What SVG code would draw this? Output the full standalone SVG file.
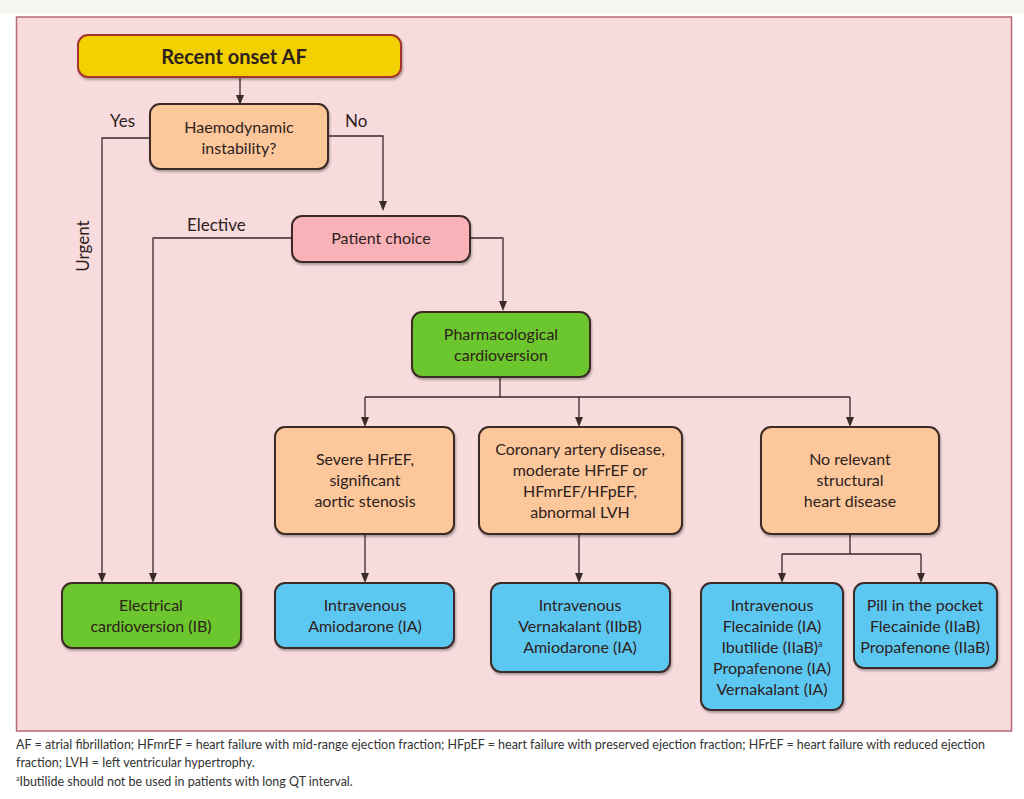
<svg xmlns="http://www.w3.org/2000/svg" width="1024" height="799" viewBox="0 0 1024 799">
<defs>
<marker id="ah" markerWidth="10" markerHeight="10" refX="5" refY="5" orient="auto" markerUnits="userSpaceOnUse">
<path d="M0,1 L10,5 L0,9 z" fill="#3a2a28"/>
</marker>
<filter id="sh" x="-10%" y="-10%" width="130%" height="140%">
<feDropShadow dx="1" dy="2" stdDeviation="1.2" flood-color="#000" flood-opacity="0.3"/>
</filter>
</defs>
<style>
.t{font-family:"Lato","Liberation Sans",sans-serif;font-size:16px;fill:#2e211b;text-anchor:middle}
.l{font-family:"Lato","Liberation Sans",sans-serif;font-size:17px;fill:#2e211b}
.f{font-family:"Lato","Liberation Sans",sans-serif;font-size:12.5px;fill:#333}
.n{stroke:#3a2a25;stroke-width:2;filter:url(#sh)}
.c{fill:none;stroke:#3a2a28;stroke-width:1.3}
.peach{fill:#fcc89b}
.blue{fill:#5cc8f2}
.green{fill:#6cc72e}
</style>
<rect x="0" y="0" width="1024" height="799" fill="#ffffff"/>
<rect x="0" y="0" width="1024" height="14" fill="#f7f7f2"/>
<rect x="16.5" y="17" width="995" height="714" fill="#f7dbdd" stroke="#b5697a" stroke-width="1.5"/>

<g id="connectors">
<path class="c" d="M240,77 V100" marker-end="url(#ah)"/>
<path class="c" d="M150,138 H102 V578" marker-end="url(#ah)"/>
<path class="c" d="M328,136 H383 V206" marker-end="url(#ah)"/>
<path class="c" d="M292,238 H153 V578" marker-end="url(#ah)"/>
<path class="c" d="M470,238 H503 V306" marker-end="url(#ah)"/>
<path class="c" d="M500,377 V397"/>
<path class="c" d="M365,397 H850"/>
<path class="c" d="M365,397 V422" marker-end="url(#ah)"/>
<path class="c" d="M579,397 V422" marker-end="url(#ah)"/>
<path class="c" d="M850,397 V422" marker-end="url(#ah)"/>
<path class="c" d="M365,534 V578" marker-end="url(#ah)"/>
<path class="c" d="M579,534 V578" marker-end="url(#ah)"/>
<path class="c" d="M850,534 V554 M782,554 H921"/>
<path class="c" d="M782,554 V578" marker-end="url(#ah)"/>
<path class="c" d="M921,554 V578" marker-end="url(#ah)"/>
<text class="l" x="110" y="127">Yes</text>
<text class="l" x="345" y="127">No</text>
<text class="l" x="187" y="231">Elective</text>
<text class="l" x="0" y="0" transform="translate(89,246) rotate(-90)" text-anchor="middle">Urgent</text>
</g>

<g id="recent-onset-af">
<rect x="78" y="35" width="323" height="42" rx="10" fill="#f3d000" stroke="#a3342b" stroke-width="2" filter="url(#sh)"/>
<text class="t" x="234" y="64" style="font-size:20px;font-weight:bold">Recent onset AF</text>
</g>

<g id="haemodynamic">
<rect class="n peach" x="150" y="104" width="178" height="65" rx="10"/>
<text class="t" x="239" y="133">Haemodynamic</text>
<text class="t" x="239" y="154">instability?</text>
</g>

<g id="patient-choice">
<rect class="n" x="292" y="216" width="178" height="46" rx="10" fill="#f8b2b8"/>
<text class="t" x="381" y="244">Patient choice</text>
</g>

<g id="pharmacological">
<rect class="n green" x="412" y="312" width="178" height="65" rx="10"/>
<text class="t" x="501" y="340">Pharmacological</text>
<text class="t" x="501" y="361">cardioversion</text>
</g>

<g id="severe">
<rect class="n peach" x="275" y="427" width="179" height="107" rx="10"/>
<text class="t" x="365" y="465">Severe HFrEF,</text>
<text class="t" x="365" y="486">significant</text>
<text class="t" x="365" y="507">aortic stenosis</text>
</g>

<g id="coronary">
<rect class="n peach" x="479" y="427" width="203" height="107" rx="10"/>
<text class="t" x="580" y="455">Coronary artery disease,</text>
<text class="t" x="580" y="476">moderate HFrEF or</text>
<text class="t" x="580" y="497">HFmrEF/HFpEF,</text>
<text class="t" x="580" y="518">abnormal LVH</text>
</g>

<g id="no-relevant">
<rect class="n peach" x="761" y="427" width="178" height="107" rx="10"/>
<text class="t" x="850" y="465">No relevant</text>
<text class="t" x="850" y="486">structural</text>
<text class="t" x="850" y="507">heart disease</text>
</g>

<g id="electrical">
<rect class="n green" x="62" y="583" width="179" height="65" rx="10"/>
<text class="t" x="151" y="611">Electrical</text>
<text class="t" x="151" y="632">cardioversion (IB)</text>
</g>

<g id="iv-amiodarone">
<rect class="n blue" x="275" y="583" width="179" height="65" rx="10"/>
<text class="t" x="365" y="611">Intravenous</text>
<text class="t" x="365" y="632">Amiodarone (IA)</text>
</g>

<g id="iv-vernakalant">
<rect class="n blue" x="491" y="583" width="179" height="89" rx="10"/>
<text class="t" x="580" y="611">Intravenous</text>
<text class="t" x="580" y="632">Vernakalant (IIbB)</text>
<text class="t" x="580" y="653">Amiodarone (IA)</text>
</g>

<g id="iv-flecainide">
<rect class="n blue" x="701" y="583" width="142" height="127" rx="10"/>
<text class="t" x="772" y="611">Intravenous</text>
<text class="t" x="772" y="632">Flecainide (IA)</text>
<text class="t" x="772" y="653">Ibutilide (IIaB)<tspan font-size="9" dy="-6">a</tspan></text>
<text class="t" x="772" y="674">Propafenone (IA)</text>
<text class="t" x="772" y="695">Vernakalant (IA)</text>
</g>

<g id="pill-in-pocket">
<rect class="n blue" x="854" y="583" width="143" height="85" rx="10"/>
<text class="t" x="925" y="611">Pill in the pocket</text>
<text class="t" x="925" y="632">Flecainide (IIaB)</text>
<text class="t" x="925" y="653">Propafenone (IIaB)</text>
</g>

<g id="footer">
<text class="f" x="16" y="749" textLength="969" lengthAdjust="spacingAndGlyphs">AF = atrial fibrillation; HFmrEF = heart failure with mid-range ejection fraction; HFpEF = heart failure with preserved ejection fraction; HFrEF = heart failure with reduced ejection</text>
<text class="f" x="16" y="767">fraction; LVH = left ventricular hypertrophy.</text>
<text class="f" x="16" y="786"><tspan font-size="7" dy="-5">a</tspan><tspan dy="5">Ibutilide should not be used in patients with long QT interval.</tspan></text>
</g>
</svg>
